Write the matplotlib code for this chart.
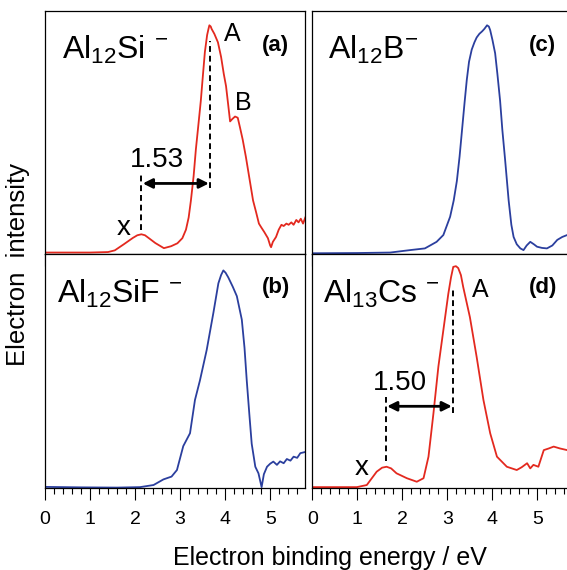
"""Photoelectron spectra of Al12X- clusters in a 2x2 grid"""
import matplotlib
matplotlib.use('Agg')
import matplotlib.pyplot as plt
from matplotlib.ticker import MultipleLocator

plt.rcParams['font.family'] = ['Liberation Sans', 'DejaVu Sans']
plt.rcParams['mathtext.fontset'] = 'custom'
plt.rcParams['mathtext.rm'] = 'Liberation Sans'
plt.rcParams['mathtext.it'] = 'Liberation Sans:italic'
plt.rcParams['mathtext.bf'] = 'Liberation Sans:bold'

RED = '#e3291f'
BLUE = '#2b3f9e'

# (a) Al12Si-
energy_a = [0.0, 1.0, 1.40, 1.55, 1.75, 1.95, 2.05, 2.14, 2.22, 2.30, 2.45, 2.64, 2.80, 2.94,
            3.05, 3.13, 3.19, 3.24, 3.30, 3.35, 3.40, 3.46, 3.50, 3.55, 3.60, 3.63, 3.65,
            3.68, 3.70, 3.76, 3.84, 3.91, 3.97, 4.02, 4.07, 4.11, 4.16, 4.22, 4.28, 4.33,
            4.39, 4.46, 4.54, 4.62, 4.69, 4.75, 4.80, 4.87, 4.95, 5.00, 5.02, 5.06,
            5.13, 5.19, 5.25, 5.30, 5.36, 5.41, 5.47, 5.52, 5.58, 5.63, 5.68, 5.73, 5.78]
signal_a = [0.006, 0.006, 0.008, 0.015, 0.04, 0.066, 0.077, 0.081, 0.077, 0.066, 0.045, 0.024, 0.032, 0.044,
            0.065, 0.10, 0.15, 0.22, 0.32, 0.43, 0.52, 0.63, 0.72, 0.83, 0.90, 0.925, 0.94,
            0.935, 0.925, 0.905, 0.87, 0.81, 0.74, 0.69, 0.61, 0.545, 0.555, 0.565, 0.56, 0.52,
            0.47, 0.40, 0.31, 0.22, 0.17, 0.125, 0.11, 0.09, 0.065, 0.035, 0.028, 0.05,
            0.07, 0.10, 0.12, 0.115, 0.125, 0.12, 0.13, 0.12, 0.14, 0.13, 0.145, 0.125, 0.15]

# (b) Al12SiF-
energy_b = [0.0, 0.8, 1.6, 2.11, 2.41, 2.63, 2.81, 2.93, 3.07, 3.22, 3.33, 3.44,
            3.59, 3.74, 3.85, 3.91, 3.96, 4.01, 4.07, 4.17, 4.26, 4.37, 4.43, 4.48, 4.54, 4.59,
            4.67, 4.74, 4.81, 4.86, 4.93, 5.00, 5.07, 5.15, 5.22, 5.30, 5.37, 5.45, 5.52,
            5.60, 5.67, 5.78]
signal_b = [0.006, 0.004, 0.003, 0.005, 0.014, 0.038, 0.05, 0.078, 0.18, 0.235, 0.377, 0.46,
            0.59, 0.75, 0.875, 0.91, 0.93, 0.92, 0.90, 0.86, 0.82, 0.72, 0.60, 0.46, 0.31, 0.19,
            0.092, 0.064, 0.005, 0.06, 0.092, 0.105, 0.114, 0.10, 0.115, 0.107, 0.125, 0.118, 0.135,
            0.13, 0.15, 0.155]

# (c) Al12B-
energy_c = [0.0, 1.0, 1.73, 2.17, 2.50, 2.76, 2.91, 3.06, 3.14, 3.21, 3.27, 3.32, 3.38, 3.43,
            3.48, 3.54, 3.60, 3.65, 3.71, 3.77, 3.82, 3.88, 3.92, 3.95, 4.00, 4.06, 4.11, 4.17,
            4.22, 4.28, 4.36, 4.42, 4.47, 4.54, 4.62, 4.69, 4.76, 4.84, 4.92, 4.99, 5.10, 5.21,
            5.33, 5.44, 5.55, 5.66, 5.78]
signal_c = [0.003, 0.004, 0.006, 0.016, 0.023, 0.05, 0.078, 0.153, 0.22, 0.30, 0.40, 0.50, 0.62, 0.715,
            0.79, 0.84, 0.87, 0.89, 0.905, 0.915, 0.925, 0.94, 0.935, 0.92, 0.88, 0.825, 0.74, 0.63,
            0.51, 0.39, 0.22, 0.12, 0.07, 0.04, 0.023, 0.016, 0.035, 0.05, 0.04, 0.03, 0.025, 0.023,
            0.035, 0.058, 0.07, 0.078, 0.085]

# (d) Al13Cs-
energy_d = [0.0, 0.99, 1.21, 1.43, 1.55, 1.65, 1.75, 1.87, 2.10, 2.32, 2.47, 2.58, 2.69, 2.80,
            2.91, 3.02, 3.08, 3.13, 3.19, 3.24, 3.30, 3.35, 3.50, 3.65, 3.80, 3.95, 4.10, 4.32, 4.54,
            4.65, 4.77, 4.84, 4.91, 5.02, 5.14, 5.25, 5.36, 5.50, 5.66, 5.78]
signal_d = [0.005, 0.005, 0.014, 0.071, 0.088, 0.092, 0.085, 0.064, 0.043, 0.028, 0.043, 0.135, 0.32, 0.52,
            0.675, 0.83, 0.90, 0.945, 0.948, 0.94, 0.91, 0.86, 0.73, 0.56, 0.377, 0.235, 0.135, 0.092, 0.078,
            0.09, 0.107, 0.085, 0.10, 0.092, 0.163, 0.17, 0.178, 0.17, 0.163, 0.15]

# peak positions used for the X-A gap markers
gap_a = (2.14, 3.67)
gap_d = (1.63, 3.13)

fig = plt.figure(figsize=(5.67, 5.70), dpi=100)

col_left = [45 / 567, 312.3 / 567]
col_w = 260.3 / 567
row_top = (570 - 254) / 570, 243.3 / 570
row_bot = (570 - 488.3) / 570, 234.3 / 570

ax_a = fig.add_axes([col_left[0], row_top[0], col_w, row_top[1]])
ax_c = fig.add_axes([col_left[1], row_top[0], col_w, row_top[1]])
ax_b = fig.add_axes([col_left[0], row_bot[0], col_w, row_bot[1]])
ax_d = fig.add_axes([col_left[1], row_bot[0], col_w, row_bot[1]])

panels = [
    (ax_a, energy_a, signal_a, RED, r'Al$_{\mathregular{12}}$Si $^{\mathregular{-}}$', '(a)', 0.064, 0.84),
    (ax_b, energy_b, signal_b, BLUE, r'Al$_{\mathregular{12}}$SiF $^{\mathregular{-}}$', '(b)', 0.045, 0.83),
    (ax_c, energy_c, signal_c, BLUE, r'Al$_{\mathregular{12}}$B$^{\mathregular{-}}$', '(c)', 0.061, 0.84),
    (ax_d, energy_d, signal_d, RED, r'Al$_{\mathregular{13}}$Cs $^{\mathregular{-}}$', '(d)', 0.042, 0.83),
]

for ax, e, s, color, name, tag, tx, ty in panels:
    ax.plot(e, s, color=color, lw=1.3)
    ax.set_xlim(0, 5.78)
    ax.set_ylim(0, 1)
    ax.set_yticks([])
    ax.xaxis.set_major_locator(MultipleLocator(1))
    ax.xaxis.set_minor_locator(MultipleLocator(0.2))
    ax.tick_params(axis='x', which='major', direction='out', length=8.5, width=0.8,
                   labelsize=14, pad=8)
    ax.tick_params(axis='x', which='minor', direction='out', length=4.5, width=0.8)
    for sp in ax.spines.values():
        sp.set_linewidth(0.9)
    ax.text(tx, ty, name, transform=ax.transAxes, fontsize=23, va='center', ha='left')
    ax.text(5.12, 0.855, tag, fontsize=16, fontweight='bold', ha='center', va='center')

for ax in (ax_a, ax_c):
    ax.tick_params(axis='x', labelbottom=False)


def gap_marker(ax, x_pos, a_pos, x_top, a_bot, a_top, arrow_y, label_xy):
    dash = (0, (3, 2))
    ax.plot([x_pos, x_pos], [x_top[0], x_top[1]], color='k', lw=1.4, ls=dash)
    ax.plot([a_pos, a_pos], [a_bot, a_top], color='k', lw=1.4, ls=dash)
    ax.annotate('', xy=(a_pos, arrow_y), xytext=(x_pos, arrow_y),
                arrowprops=dict(arrowstyle='<|-|>', color='k', lw=2,
                                mutation_scale=14, shrinkA=1, shrinkB=1))
    ax.text(label_xy[0], label_xy[1], f'{a_pos - x_pos:.2f}', fontsize=20,
            ha='center', va='center')


gap_marker(ax_a, gap_a[0], gap_a[1], (0.10, 0.33), 0.27, 0.875, 0.29, (2.48, 0.385))
ax_a.text(1.74, 0.105, 'x', fontsize=20, ha='center', va='center')
ax_a.text(4.16, 0.905, 'A', fontsize=18, ha='center', va='center')
ax_a.text(4.41, 0.62, 'B', fontsize=18, ha='center', va='center')

gap_marker(ax_d, gap_d[0], gap_d[1], (0.115, 0.39), 0.32, 0.855, 0.35, (1.95, 0.45))
ax_d.text(1.10, 0.085, 'x', fontsize=20, ha='center', va='center')
ax_d.text(3.73, 0.845, 'A', fontsize=18, ha='center', va='center')

fig.text(18 / 567, 1 - 265 / 570, 'Electron  intensity', rotation=90, fontsize=18.5,
         ha='center', va='center')
fig.text(330 / 567, 5 / 570, 'Electron binding energy / eV', fontsize=18,
         ha='center', va='baseline')

fig.savefig('out.png', dpi=100)
